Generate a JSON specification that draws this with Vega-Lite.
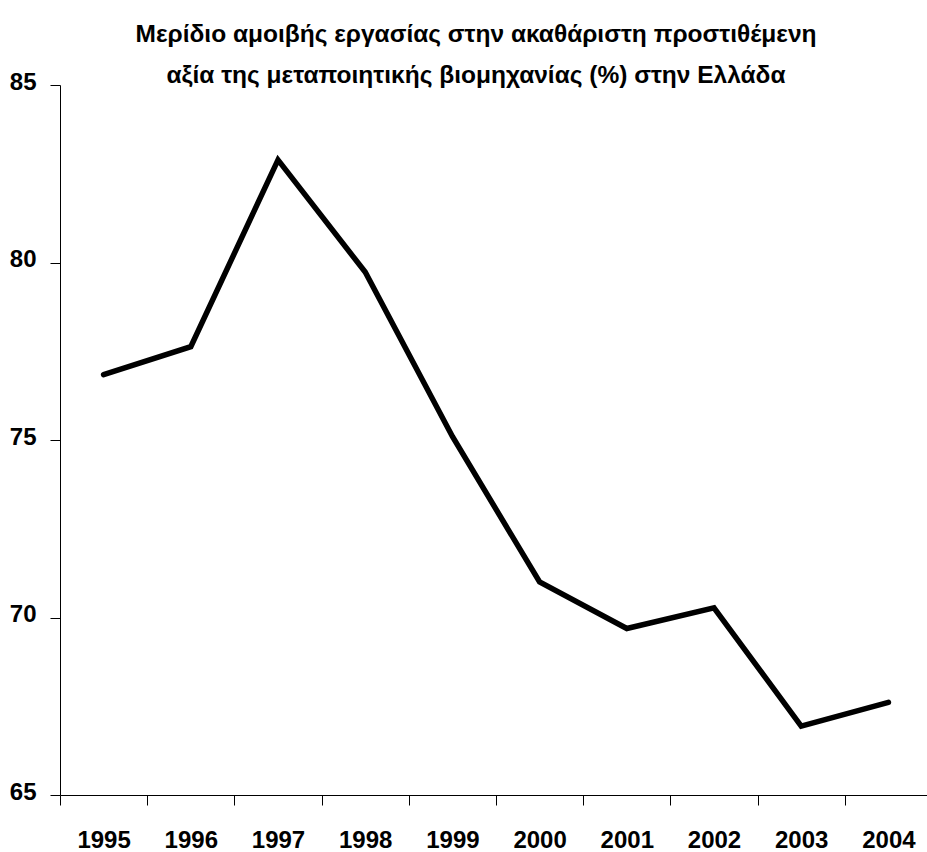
{
  "$schema": "https://vega.github.io/schema/vega-lite/v6.json",
  "autosize": "none",
  "width": 872,
  "height": 710,
  "padding": {"left": 60, "top": 85, "right": 0, "bottom": 57},
  "background": "white",
  "config": {"view": {"stroke": null}},
  "title": {
    "text": ["Μερίδιο αμοιβής εργασίας στην ακαθάριστη προστιθέμενη", "αξία της μεταποιητικής βιομηχανίας (%) στην Ελλάδα"],
    "font": "Liberation Sans",
    "fontSize": 24.5,
    "fontWeight": "bold",
    "color": "black",
    "anchor": "middle",
    "dx": -20,
    "offset": -18,
    "lineHeight": 41
  },
  "data": {
    "values": [
      {"year": "1995", "share": 76.84},
      {"year": "1996", "share": 77.63},
      {"year": "1997", "share": 82.89},
      {"year": "1998", "share": 79.73},
      {"year": "1999", "share": 75.1},
      {"year": "2000", "share": 71.0},
      {"year": "2001", "share": 69.69},
      {"year": "2002", "share": 70.27},
      {"year": "2003", "share": 66.94},
      {"year": "2004", "share": 67.61}
    ]
  },
  "mark": {"type": "line", "color": "black", "strokeWidth": 5.5, "strokeJoin": "miter", "strokeCap": "round"},
  "encoding": {
    "x": {
      "field": "year",
      "type": "ordinal",
      "scale": {"type": "band", "paddingInner": 0, "paddingOuter": 0},
      "axis": {
        "title": null,
        "labelAngle": 0,
        "tickBand": "extent",
        "domainColor": "black",
        "tickColor": "black",
        "tickSize": 10,
        "labelFont": "Liberation Sans",
        "labelFontSize": 24,
        "labelFontWeight": "bold",
        "labelColor": "black",
        "labelPadding": 23
      }
    },
    "y": {
      "field": "share",
      "type": "quantitative",
      "scale": {"domain": [65, 85], "nice": false, "zero": false},
      "axis": {
        "title": null,
        "values": [65, 70, 75, 80, 85],
        "grid": false,
        "domainColor": "black",
        "tickColor": "black",
        "tickSize": 10,
        "labelFont": "Liberation Sans",
        "labelFontSize": 24,
        "labelFontWeight": "bold",
        "labelColor": "black",
        "labelPadding": 14,
        "labelBaseline": "middle",
        "labelOffset": -3
      }
    }
  }
}
